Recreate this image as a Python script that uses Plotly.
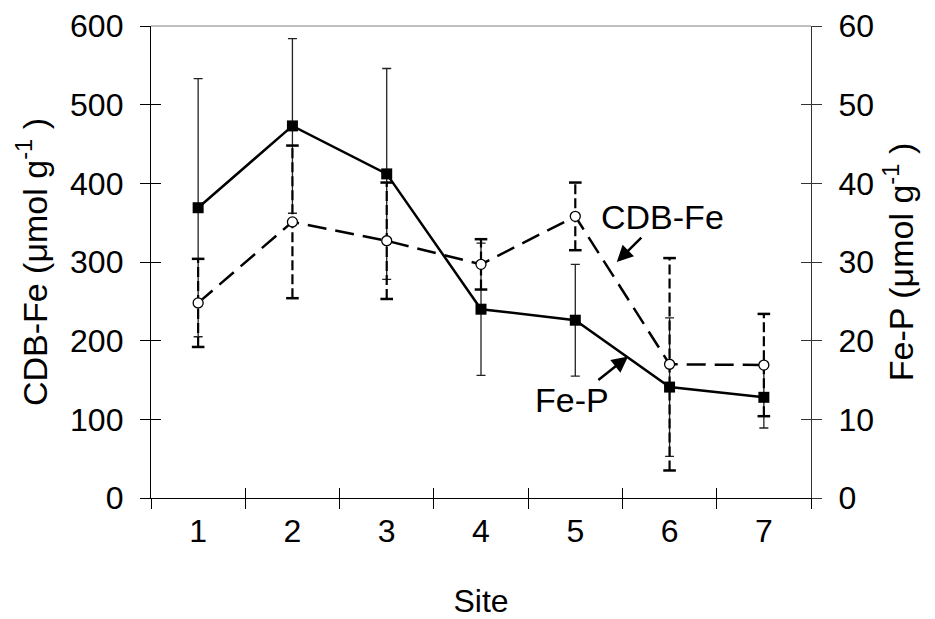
import plotly.graph_objects as go

# Sampling sites
sites = [1, 2, 3, 4, 5, 6, 7]
site_labels = ["1", "2", "3", "4", "5", "6", "7"]

# CDB-extractable Fe (µmol g-1), mean and error
cdb_fe = [248, 351, 327, 297, 358, 170, 169]
cdb_fe_err = [56, 97, 74, 32, 43, 135, 65]

# Fe-bound P (µmol g-1), mean and error
fe_p = [36.9, 47.3, 41.2, 24.0, 22.6, 14.1, 12.8]
fe_p_err = [16.4, 11.1, 13.4, 8.4, 7.1, 8.8, 3.9]

FONT = "Liberation Sans, Arial, sans-serif"
FS = 32

fig = go.Figure()

# Fe-P: solid line, filled squares, thin solid error bars (right axis, base layer)
fig.add_trace(go.Scatter(
    x=sites, y=fe_p, xaxis="x", yaxis="y",
    mode="lines+markers",
    line=dict(color="black", width=2.5),
    marker=dict(symbol="square", size=11, color="black"),
    error_y=dict(type="data", array=fe_p_err, visible=True,
                 color="#222222", thickness=1.3, width=4.5),
    showlegend=False, hoverinfo="skip",
))

# CDB-Fe dashed error bars (vertical stems)
stem_x, stem_y = [], []
for s, v, e in zip(sites, cdb_fe, cdb_fe_err):
    stem_x += [s, s, None]
    stem_y += [v - e, v + e, None]
fig.add_trace(go.Scatter(
    x=stem_x, y=stem_y, xaxis="x", yaxis="y2", mode="lines",
    line=dict(color="black", width=2.2, dash="10px,4px"),
    showlegend=False, hoverinfo="skip",
))
# CDB-Fe error bar caps
cap_x = sites + sites
cap_y = [v + e for v, e in zip(cdb_fe, cdb_fe_err)] + [v - e for v, e in zip(cdb_fe, cdb_fe_err)]
fig.add_trace(go.Scatter(
    x=cap_x, y=cap_y, xaxis="x", yaxis="y2", mode="markers",
    marker=dict(symbol="line-ew", size=9, line=dict(color="black", width=2.5)),
    showlegend=False, hoverinfo="skip",
))
# CDB-Fe: dashed line with open circles
fig.add_trace(go.Scatter(
    x=sites, y=cdb_fe, xaxis="x", yaxis="y2",
    mode="lines+markers",
    line=dict(color="black", width=2.5, dash="19px,9px"),
    marker=dict(symbol="circle", size=10, color="white",
                line=dict(color="black", width=1.3)),
    showlegend=False, hoverinfo="skip",
))

# empty traces so the inner-tick overlay axes get drawn
fig.add_trace(go.Scatter(x=[], y=[], xaxis="x2", yaxis="y3", showlegend=False, hoverinfo="skip"))
fig.add_trace(go.Scatter(x=[], y=[], xaxis="x", yaxis="y4", showlegend=False, hoverinfo="skip"))

tick_font = dict(family=FONT, size=FS, color="black")
title_font = dict(family=FONT, size=34, color="black")
xrange = [0.5, 7.5]

fig.update_layout(
    width=935, height=619,
    margin=dict(l=151, r=124, t=26, b=121, autoexpand=False),
    paper_bgcolor="white", plot_bgcolor="white",
    font=dict(family=FONT, size=FS, color="black"),
    xaxis=dict(
        range=xrange, tickmode="array", tickvals=sites, ticktext=site_labels,
        ticks="", showgrid=False, zeroline=False, automargin=False,
        showline=True, linecolor="black", linewidth=1.3,
        minor=dict(tick0=0.5, dtick=1, ticks="outside", ticklen=10,
                   tickcolor="black", tickwidth=1, showgrid=False),
        tickfont=tick_font, ticklabelstandoff=4,
        title=dict(text="Site", font=tick_font, standoff=50),
        anchor="y",
    ),
    xaxis2=dict(
        range=xrange, overlaying="x", anchor="y", side="bottom", automargin=False,
        tickmode="linear", tick0=0.5, dtick=1,
        ticks="inside", ticklen=10, tickcolor="black", tickwidth=1,
        showticklabels=False, showgrid=False, zeroline=False, showline=False,
    ),
    # right axis: Fe-P
    yaxis=dict(
        range=[0, 60], side="right", anchor="x", automargin=False,
        tickmode="linear", tick0=0, dtick=10,
        ticks="outside", ticklen=10, tickcolor="#333333", tickwidth=1,
        showgrid=False, zeroline=False,
        showline=True, linecolor="#333333", linewidth=1.3,
        tickfont=tick_font, ticklabelstandoff=10,
        title=dict(text="Fe-P (μmol g<sup>-1</sup> )", font=title_font, standoff=16),
    ),
    # left axis: CDB-Fe
    yaxis2=dict(
        range=[0, 600], side="left", anchor="x", overlaying="y", automargin=False,
        tickmode="linear", tick0=0, dtick=100,
        ticks="outside", ticklen=10, tickcolor="black", tickwidth=1,
        showgrid=False, zeroline=False,
        showline=True, linecolor="black", linewidth=1.3,
        tickfont=tick_font, ticklabelstandoff=10,
        title=dict(text="CDB-Fe (μmol g<sup>-1</sup> )", font=title_font, standoff=12),
    ),
    yaxis3=dict(
        range=[0, 600], side="left", anchor="x2", overlaying="y", automargin=False,
        tickmode="linear", tick0=0, dtick=100,
        ticks="inside", ticklen=10, tickcolor="black", tickwidth=1,
        showticklabels=False, showgrid=False, zeroline=False, showline=False,
    ),
    yaxis4=dict(
        range=[0, 60], side="right", anchor="x", overlaying="y", automargin=False,
        tickmode="linear", tick0=0, dtick=10,
        ticks="inside", ticklen=10, tickcolor="#333333", tickwidth=1,
        showticklabels=False, showgrid=False, zeroline=False, showline=False,
    ),
)

# light top border of the plot frame
fig.add_shape(type="line", xref="paper", yref="paper", x0=0, x1=1, y0=1, y1=1,
              line=dict(color="#aaaaaa", width=1.5))

# series labels with pointer arrows (text sits at the arrow tail)
label_font = dict(family=FONT, size=34, color="black")
fig.add_annotation(x=5.44, y=300, xref="x", yref="y2",
                   ax=5.92, ay=357, axref="x", ayref="y2",
                   text="CDB-Fe", font=label_font, showarrow=True,
                   arrowhead=2, arrowsize=1.3, arrowwidth=2.5, arrowcolor="black")
fig.add_annotation(x=5.56, y=180, xref="x", yref="y2",
                   ax=4.97, ay=124, axref="x", ayref="y2",
                   text="Fe-P", font=label_font, showarrow=True,
                   arrowhead=2, arrowsize=1.3, arrowwidth=2.5, arrowcolor="black")

fig.write_html("out.html")
